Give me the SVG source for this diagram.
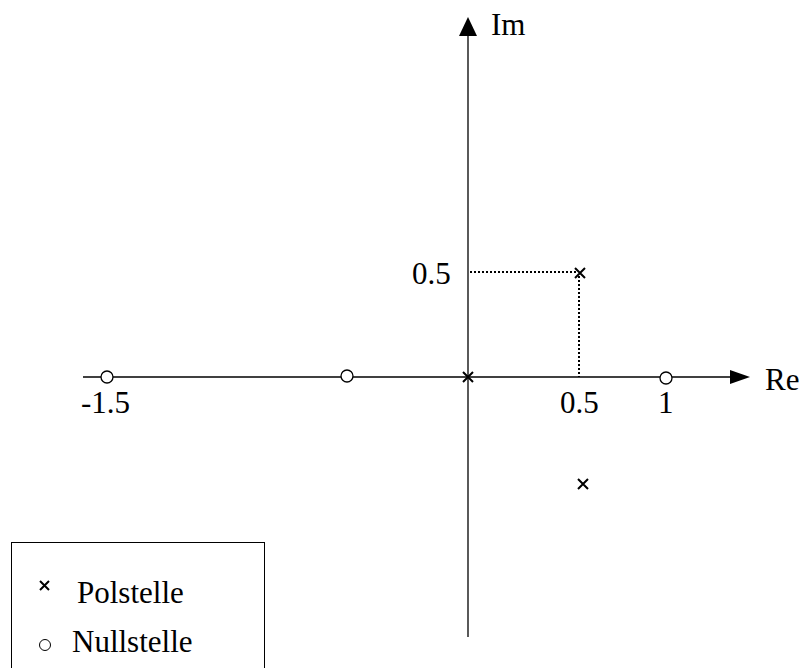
<svg xmlns="http://www.w3.org/2000/svg" width="803" height="668" viewBox="0 0 803 668">
<style>
text{font-family:"Liberation Serif","Times New Roman",serif;font-size:31px;fill:#000}
.ax{stroke:#000;stroke-width:1.3;fill:none}
.dot{stroke:#000;stroke-width:2;stroke-dasharray:2 2;fill:none}
.zero{fill:#fff;stroke:#000;stroke-width:1.3}
.pole{stroke:#000;stroke-width:2;fill:none}
</style>
<rect width="803" height="668" fill="#fff"/>
<g id="connectors">
<line class="ax" x1="83" y1="377" x2="735" y2="377"/>
<polygon points="730,370 750,377 730,384" fill="#000"/>
<line class="ax" x1="468" y1="637" x2="468" y2="32"/>
<polygon points="459,36 468,17 477,36" fill="#000"/>
<polyline class="dot" points="470,272 578,272"/>
<polyline class="dot" points="579,276 579,377"/>
</g>
<g id="axis-labels">
<text x="765" y="390">Re</text>
<text x="491" y="35">Im</text>
<text x="412" y="284">0.5</text>
<text x="81" y="413">-1.5</text>
<text x="560" y="413">0.5</text>
<text x="658" y="413">1</text>
</g>
<g id="zeros">
<circle class="zero" cx="107" cy="377" r="6"/>
<circle class="zero" cx="347" cy="376" r="6"/>
<circle class="zero" cx="666" cy="378" r="6"/>
</g>
<g id="poles">
<path class="pole" d="M463,372 L473,382 M473,372 L463,382"/>
<path class="pole" d="M575,268 L585,278 M585,268 L575,278"/>
<path class="pole" d="M578,479 L588,489 M588,479 L578,489"/>
</g>
<g id="legend">
<rect x="11.5" y="542.5" width="253" height="140" fill="none" stroke="#000" stroke-width="1"/>
<path class="pole" d="M40,581 L49,590 M49,581 L40,590"/>
<text x="77" y="603">Polstelle</text>
<circle cx="45" cy="645" r="5.5" fill="#fff" stroke="#000" stroke-width="1"/>
<text x="72" y="652">Nullstelle</text>
</g>
</svg>
